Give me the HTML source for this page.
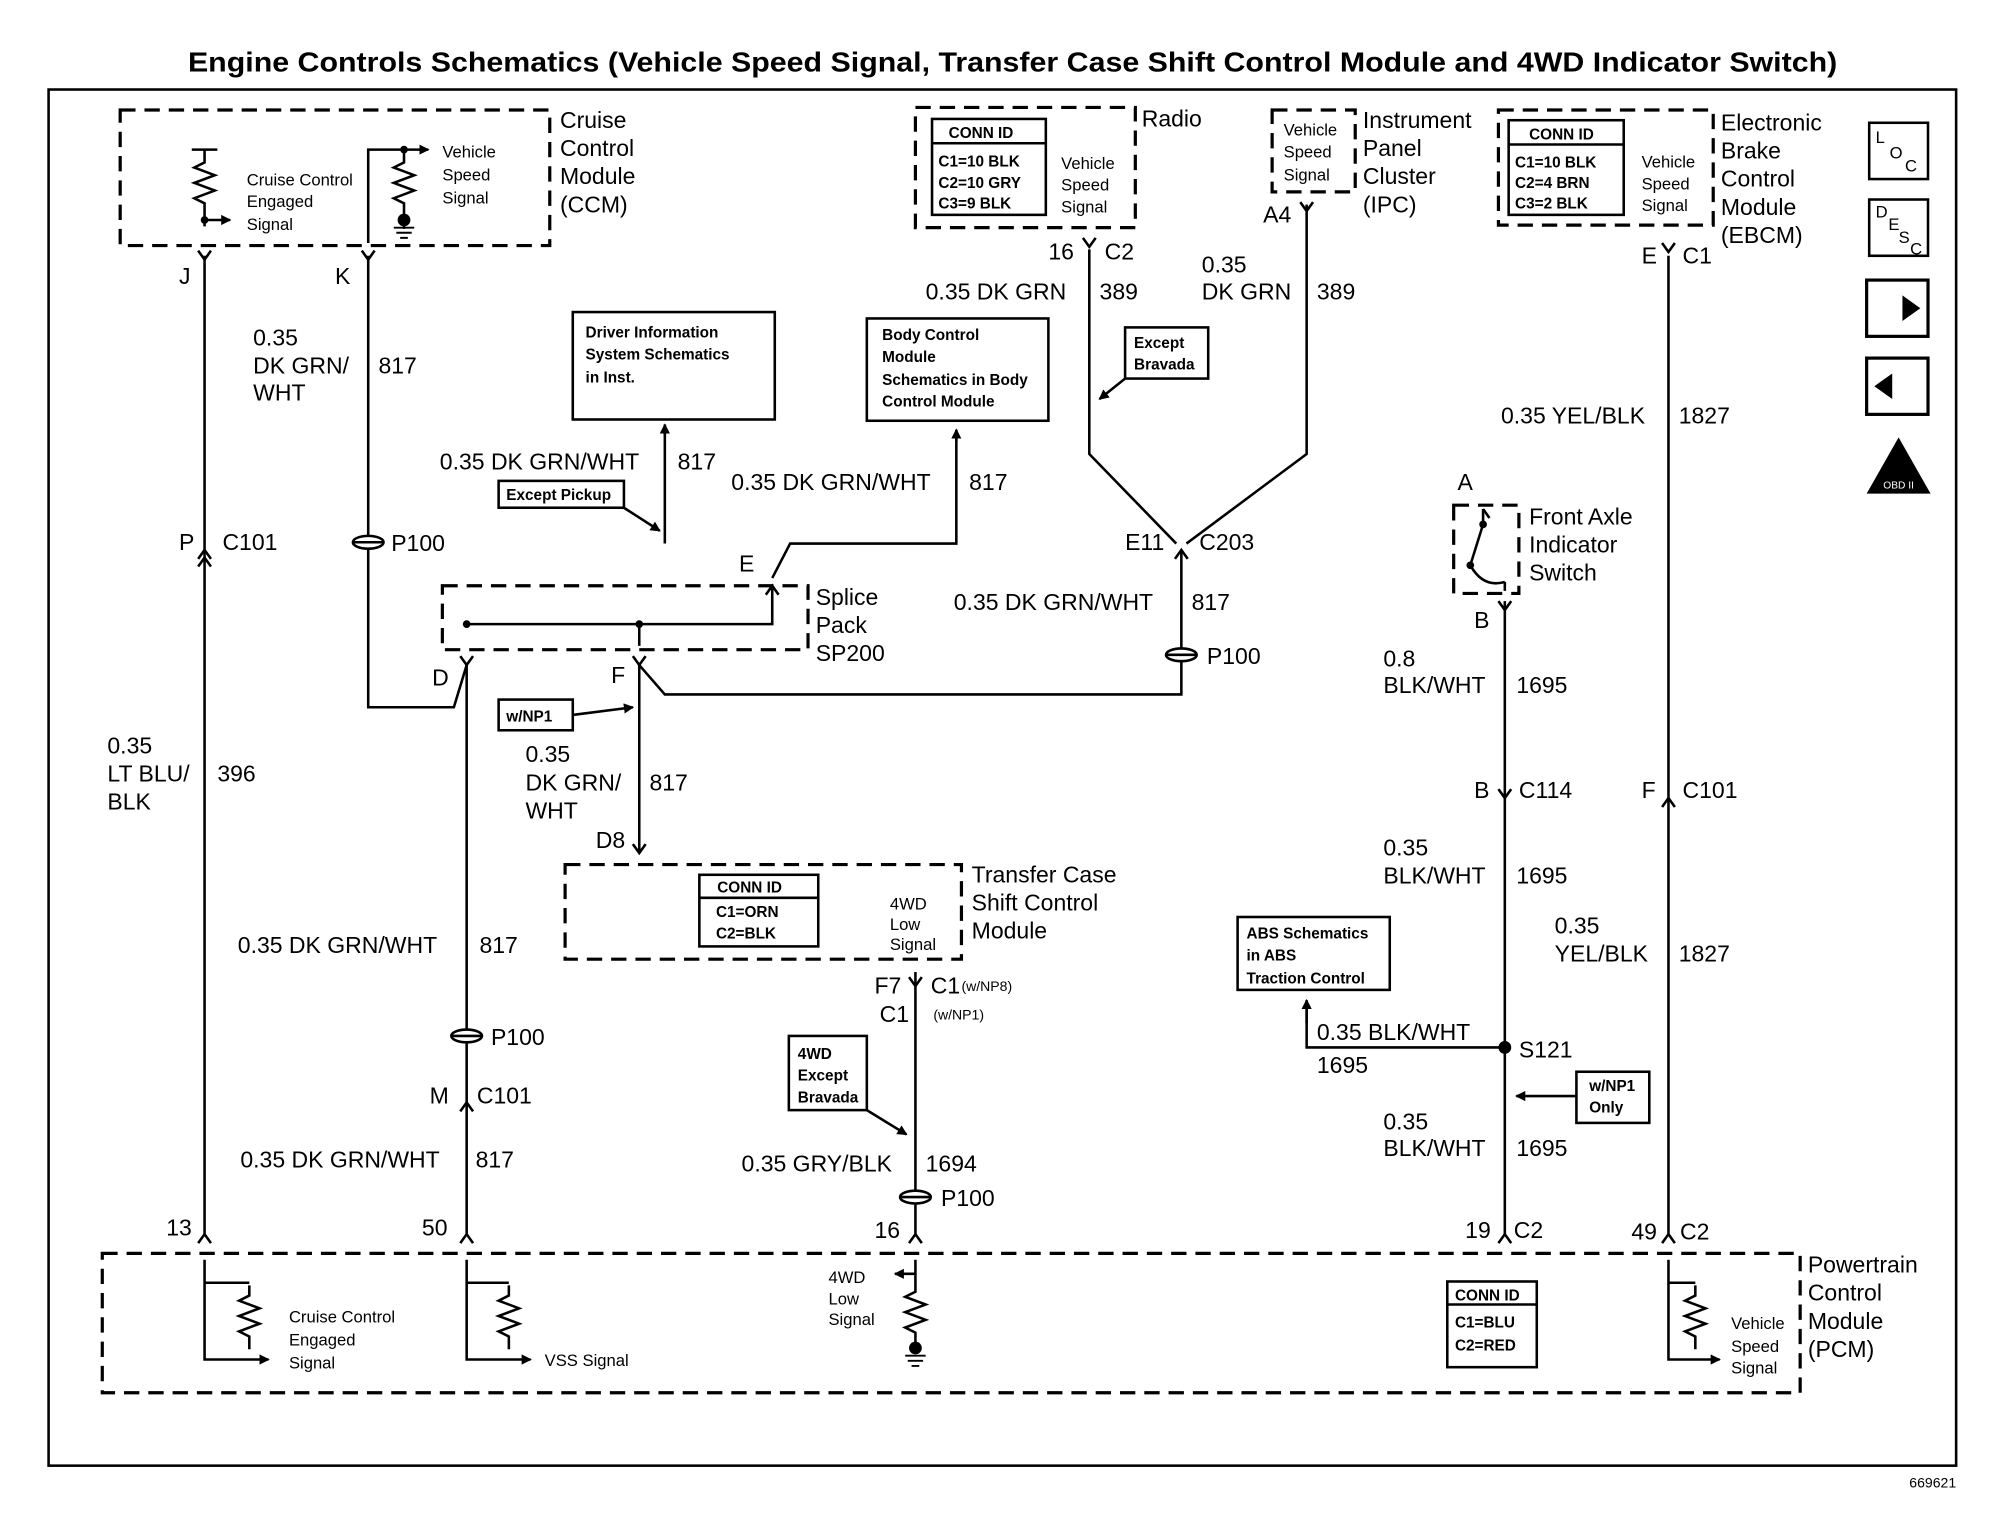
<!DOCTYPE html>
<html><head><meta charset="utf-8"><style>
html,body{margin:0;padding:0;background:#fff}
svg{display:block}
text{font-family:"Liberation Sans",Arial,sans-serif;fill:#000}
.t{font-size:18px}
.s{font-size:13px}
.b{font-size:12px;font-weight:bold}
</style></head><body>
<svg width="2006" height="1536" viewBox="0 0 1569 1201" preserveAspectRatio="none" xmlns="http://www.w3.org/2000/svg">
<defs>
<marker id="ar" markerWidth="8" markerHeight="8" refX="7" refY="4" orient="auto" markerUnits="userSpaceOnUse"><path d="M0,0 L8,4 L0,8 z" fill="#000"/></marker>
</defs>
<rect width="1600" height="1240" fill="#fff"/>
<text x="147" y="56" font-size="22" font-weight="bold" textLength="1290" lengthAdjust="spacingAndGlyphs">Engine Controls Schematics (Vehicle Speed Signal, Transfer Case Shift Control Module and 4WD Indicator Switch)</text>
<rect x="38" y="70" width="1492" height="1076" fill="none" stroke="#000" stroke-width="2"/>
<text x="1530" y="1163" font-size="11" text-anchor="end">669621</text>

<g fill="none" stroke="#000" stroke-width="2.5" stroke-dasharray="12,7">
<rect x="94" y="86" width="336" height="106"/>
<rect x="346" y="458" width="286" height="50"/>
<rect x="716" y="84" width="172" height="94"/>
<rect x="995" y="86" width="65" height="64"/>
<rect x="1172" y="86" width="168" height="90"/>
<rect x="442" y="676" width="310" height="74"/>
<rect x="1137" y="395" width="51" height="69"/>
<rect x="80" y="980" width="1328" height="109"/>
</g>

<g fill="none" stroke="#000" stroke-width="2">
<path d="M160,200 V965"/>
<path d="M288,200 V553 H355 L365,520"/>
<path d="M365,520 V965"/>
<path d="M500,520 L520,543 H924 V430"/>
<path d="M500,520 V665"/>
<path d="M604,452 L618,425 H748 V337"/>
<path d="M520,425 V332"/>
<path d="M852,195 V355 L920,425"/>
<path d="M1022,160 V355 L928,425"/>
<path d="M1305,200 V965"/>
<path d="M1177,470 V965"/>
<path d="M1177,819 H1022 V785"/>
<path d="M716,760 V965"/>
<path d="M365,488 H604 V460"/>
<path d="M500,488 V505"/>
<rect x="448" y="244" width="158" height="84"/>
<rect x="678" y="249" width="142" height="80"/>
<rect x="880" y="256" width="65" height="40"/>
<rect x="390" y="376" width="98" height="21"/>
<rect x="390" y="547" width="58" height="24"/>
<rect x="617" y="810" width="61" height="58"/>
<rect x="968" y="717" width="119" height="57"/>
<rect x="1233" y="838" width="57" height="40"/>
<rect x="729" y="93" width="89" height="75"/><path d="M729,112 H818"/>
<rect x="1180" y="94" width="90" height="74"/><path d="M1180,113 H1270"/>
<rect x="547" y="684" width="93" height="56"/><path d="M547,702 H640"/>
<rect x="1132" y="1002" width="70" height="67"/><path d="M1132,1020 H1202"/>
<path d="M520,340 V332" marker-end="url(#ar)"/>
<path d="M748,345 V336" marker-end="url(#ar)"/>
<path d="M488,397 L516,415" marker-end="url(#ar)"/>
<path d="M448,559 L495,553" marker-end="url(#ar)"/>
<path d="M880,296 L860,312" marker-end="url(#ar)"/>
<path d="M678,868 L709,887" marker-end="url(#ar)"/>
<path d="M1022,800 V782" marker-end="url(#ar)"/>
<path d="M1233,857 H1186" marker-end="url(#ar)"/>
<path d="M155,196 L160,203 L165,196 M283,196 L288,203 L293,196 M847,186 L852,193 L857,186 M1017,158 L1022,165 L1027,158 M1300,190 L1305,197 L1310,190 M711,764 L716,771 L721,764 M360,513 L365,520 L370,513 M495,513 L500,520 L505,513 M599,465 L604,458 L609,465 M1172,470 L1177,477 L1182,470 M495,660 L500,667 L505,660"/>
<path d="M155,437 L160,430 L165,437 M155,443 L160,436 L165,443"/>
<path d="M919,437 L924,430 L929,437"/>
<path d="M1172,617 L1177,624 L1182,617"/>
<path d="M1300,631 L1305,624 L1310,631"/>
<path d="M360,869 L365,862 L370,869"/>
<path d="M155,972 L160,965 L165,972 M360,972 L365,965 L370,972 M711,972 L716,965 L721,972 M1172,972 L1177,965 L1182,972 M1300,972 L1305,965 L1310,972"/>
<path d="M160,985 V1063 H210" marker-end="url(#ar)"/>
<path d="M195,1005 v8 l-8,4 l16,6 l-16,6 l16,6 l-16,6 l8,4 v10"/>
<path d="M160,1003 H195"/>
<path d="M365,985 V1063 H415" marker-end="url(#ar)"/>
<path d="M398,1005 v8 l-8,4 l16,6 l-16,6 l16,6 l-16,6 l8,4 v10"/>
<path d="M365,1003 H398"/>
<path d="M716,985 V1010 l-8,4 l16,6 l-16,6 l16,6 l-16,6 l8,4 v8"/>
<path d="M716,996 H700" marker-end="url(#ar)"/>
<path d="M1305,985 V1063 H1345" marker-end="url(#ar)"/>
<path d="M1326,1005 v8 l-8,4 l16,6 l-16,6 l16,6 l-16,6 l8,4 v10"/>
<path d="M1305,1003 H1326"/>
<path d="M150,117 H170 M160,117 v10 l-8,4 l16,6 l-16,6 l16,6 l-16,6 l8,4 v18" />
<path d="M160,172 H180" marker-end="url(#ar)"/>
<path d="M288,190 V117 H335" marker-end="url(#ar)"/>
<path d="M316,117 v10 l-8,4 l16,6 l-16,6 l16,6 l-16,6 l8,4 v20"/>
<path d="M1160,398 V410 L1150,442 M1150,442 Q1160,460 1177,455 M1177,455 V462"/>
<path d="M1160,398 L1165,405"/>
<rect x="1462" y="96" width="46" height="44"/>
<rect x="1462" y="156" width="46" height="44"/>
<rect x="1460" y="219" width="48" height="44" stroke-width="2.5"/>
<rect x="1460" y="280" width="48" height="44" stroke-width="2.5"/>
</g>
<g fill="#000">
<circle cx="1177" cy="819" r="5"/>
<circle cx="160" cy="172" r="3"/><circle cx="316" cy="117" r="3"/>
<circle cx="316" cy="172" r="5"/><path d="M308,178 h16 M310,182 h12 M313,186 h6" stroke="#000" stroke-width="1.5"/>
<circle cx="716" cy="1054" r="5"/><path d="M708,1060 h16 M710,1064 h12 M713,1068 h6" stroke="#000" stroke-width="1.5"/>
<circle cx="1150" cy="442" r="3"/><circle cx="1160" cy="410" r="3"/>
<circle cx="365" cy="488" r="3"/><circle cx="500" cy="488" r="3"/>
<g stroke="#000" stroke-width="2"><ellipse cx="288" cy="424" rx="12" ry="5" fill="#fff"/><path d="M276,424 h24"/></g>
<g stroke="#000" stroke-width="2"><ellipse cx="924" cy="512" rx="12" ry="5" fill="#fff"/><path d="M912,512 h24"/></g>
<g stroke="#000" stroke-width="2"><ellipse cx="365" cy="810" rx="12" ry="5" fill="#fff"/><path d="M353,810 h24"/></g>
<g stroke="#000" stroke-width="2"><ellipse cx="716" cy="936" rx="12" ry="5" fill="#fff"/><path d="M704,936 h24"/></g>
<path d="M1470,241 h18 v-10 l14,10 l-14,10 v-10 z"/>
<path d="M1498,302 h-18 v-10 l-14,10 l14,10 v-10 z"/>
<path d="M1485,342 L1510,386 H1460 z"/>
</g>
<text x="1467" y="112" class="s">L</text><text x="1478" y="124" class="s">O</text><text x="1490" y="134" class="s">C</text>
<text x="1467" y="170" class="s">D</text><text x="1477" y="180" class="s">E</text><text x="1485" y="190" class="s">S</text><text x="1494" y="199" class="s">C</text>
<text x="1485" y="382" font-size="8" text-anchor="middle" style="fill:#fff">OBD II</text>

<g class="t">
<text x="438" y="100">Cruise</text><text x="438" y="122">Control</text><text x="438" y="144">Module</text><text x="438" y="166">(CCM)</text>
<text x="140" y="222">J</text><text x="262" y="222">K</text>
<text x="198" y="270">0.35</text><text x="198" y="292">DK GRN/</text><text x="198" y="313">WHT</text><text x="296" y="292">817</text>
<text x="140" y="430">P</text><text x="174" y="430">C101</text><text x="306" y="431">P100</text>
<text x="84" y="589">0.35</text><text x="84" y="611">LT BLU/</text><text x="84" y="633">BLK</text><text x="170" y="611">396</text>
<text x="344" y="367">0.35 DK GRN/WHT</text><text x="530" y="367">817</text>
<text x="572" y="383">0.35 DK GRN/WHT</text><text x="758" y="383">817</text>
<text x="578" y="447">E</text>
<text x="638" y="473">Splice</text><text x="638" y="495">Pack</text><text x="638" y="517">SP200</text>
<text x="338" y="536">D</text><text x="478" y="534">F</text>
<text x="411" y="596">0.35</text><text x="411" y="618">DK GRN/</text><text x="411" y="640">WHT</text><text x="508" y="618">817</text>
<text x="466" y="663">D8</text>
<text x="760" y="690">Transfer Case</text><text x="760" y="712">Shift Control</text><text x="760" y="734">Module</text>
<text x="186" y="745">0.35 DK GRN/WHT</text><text x="375" y="745">817</text>
<text x="384" y="817">P100</text>
<text x="336" y="863">M</text><text x="373" y="863">C101</text>
<text x="188" y="913">0.35 DK GRN/WHT</text><text x="372" y="913">817</text>
<text x="130" y="966">13</text><text x="330" y="966">50</text><text x="684" y="968">16</text>
<text x="684" y="777">F7</text><text x="728" y="777">C1</text><text x="688" y="799">C1</text>
<text x="580" y="916">0.35 GRY/BLK</text><text x="724" y="916">1694</text><text x="736" y="943">P100</text>
<text x="893" y="99">Radio</text>
<text x="820" y="203">16</text><text x="864" y="203">C2</text>
<text x="724" y="234">0.35 DK GRN</text><text x="860" y="234">389</text>
<text x="1066" y="100">Instrument</text><text x="1066" y="122">Panel</text><text x="1066" y="144">Cluster</text><text x="1066" y="166">(IPC)</text>
<text x="988" y="174">A4</text>
<text x="940" y="213">0.35</text><text x="940" y="234">DK GRN</text><text x="1030" y="234">389</text>
<text x="880" y="430">E11</text><text x="938" y="430">C203</text>
<text x="746" y="477">0.35 DK GRN/WHT</text><text x="932" y="477">817</text><text x="944" y="519">P100</text>
<text x="1346" y="102">Electronic</text><text x="1346" y="124">Brake</text><text x="1346" y="146">Control</text><text x="1346" y="168">Module</text><text x="1346" y="190">(EBCM)</text>
<text x="1284" y="206">E</text><text x="1316" y="206">C1</text>
<text x="1174" y="331">0.35 YEL/BLK</text><text x="1313" y="331">1827</text>
<text x="1140" y="383">A</text>
<text x="1196" y="410">Front Axle</text><text x="1196" y="432">Indicator</text><text x="1196" y="454">Switch</text>
<text x="1153" y="491">B</text>
<text x="1082" y="521">0.8</text><text x="1082" y="542">BLK/WHT</text><text x="1186" y="542">1695</text>
<text x="1153" y="624">B</text><text x="1188" y="624">C114</text>
<text x="1284" y="624">F</text><text x="1316" y="624">C101</text>
<text x="1082" y="669">0.35</text><text x="1082" y="691">BLK/WHT</text><text x="1186" y="691">1695</text>
<text x="1216" y="730">0.35</text><text x="1216" y="752">YEL/BLK</text><text x="1313" y="752">1827</text>
<text x="1030" y="813">0.35 BLK/WHT</text><text x="1030" y="839">1695</text><text x="1188" y="827">S121</text>
<text x="1082" y="883">0.35</text><text x="1082" y="904">BLK/WHT</text><text x="1186" y="904">1695</text>
<text x="1146" y="968">19</text><text x="1184" y="968">C2</text>
<text x="1276" y="969">49</text><text x="1314" y="969">C2</text>
<text x="1414" y="995">Powertrain</text><text x="1414" y="1017">Control</text><text x="1414" y="1039">Module</text><text x="1414" y="1061">(PCM)</text>
</g>
<g class="s">
<text x="193" y="145">Cruise Control</text><text x="193" y="162">Engaged</text><text x="193" y="180">Signal</text>
<text x="346" y="123">Vehicle</text><text x="346" y="141">Speed</text><text x="346" y="159">Signal</text>
<text x="830" y="132">Vehicle</text><text x="830" y="149">Speed</text><text x="830" y="166">Signal</text>
<text x="1004" y="106">Vehicle</text><text x="1004" y="123">Speed</text><text x="1004" y="141">Signal</text>
<text x="1284" y="131">Vehicle</text><text x="1284" y="148">Speed</text><text x="1284" y="165">Signal</text>
<text x="696" y="711">4WD</text><text x="696" y="727">Low</text><text x="696" y="743">Signal</text>
<text x="752" y="775" font-size="11">(w/NP8)</text><text x="730" y="797" font-size="11">(w/NP1)</text>
<text x="226" y="1034">Cruise Control</text><text x="226" y="1052">Engaged</text><text x="226" y="1070">Signal</text>
<text x="426" y="1068">VSS Signal</text>
<text x="648" y="1003">4WD</text><text x="648" y="1020">Low</text><text x="648" y="1036">Signal</text>
<text x="1354" y="1039">Vehicle</text><text x="1354" y="1057">Speed</text><text x="1354" y="1074">Signal</text>
</g>
<g class="b">
<text x="458" y="264">Driver Information</text><text x="458" y="281">System Schematics</text><text x="458" y="299">in  Inst.</text>
<text x="690" y="266">Body Control</text><text x="690" y="283">Module</text><text x="690" y="301">Schematics in Body</text><text x="690" y="318">Control  Module</text>
<text x="887" y="272">Except</text><text x="887" y="289">Bravada</text>
<text x="396" y="391">Except Pickup</text>
<text x="396" y="564">w/NP1</text>
<text x="624" y="828">4WD</text><text x="624" y="845">Except</text><text x="624" y="862">Bravada</text>
<text x="975" y="734">ABS Schematics</text><text x="975" y="751">in ABS</text><text x="975" y="769">Traction Control</text>
<text x="1243" y="853">w/NP1</text><text x="1243" y="870">Only</text>
<text x="742" y="108">CONN ID</text><text x="734" y="130">C1=10 BLK</text><text x="734" y="147">C2=10 GRY</text><text x="734" y="163">C3=9 BLK</text>
<text x="1196" y="109">CONN ID</text><text x="1185" y="131">C1=10 BLK</text><text x="1185" y="147">C2=4 BRN</text><text x="1185" y="163">C3=2 BLK</text>
<text x="561" y="698">CONN ID</text><text x="560" y="717">C1=ORN</text><text x="560" y="734">C2=BLK</text>
<text x="1138" y="1017">CONN ID</text><text x="1138" y="1038">C1=BLU</text><text x="1138" y="1056">C2=RED</text>
</g>
</svg>
</body></html>
